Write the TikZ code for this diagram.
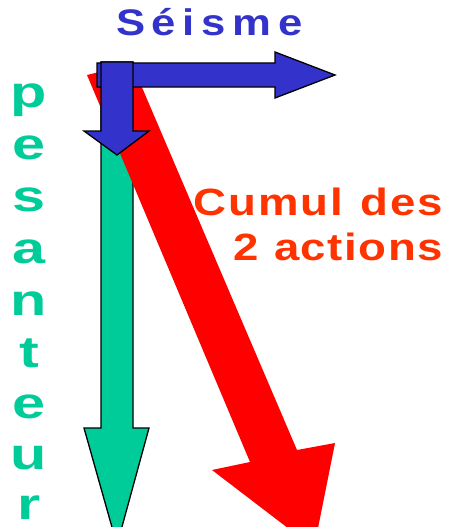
\documentclass[tikz,border=0pt]{standalone}
\usepackage{fontspec}
\setmainfont{Liberation Sans}
\usepackage{graphicx}
\definecolor{seismeblue}{HTML}{3333CC}
\definecolor{pesgreen}{HTML}{00CC99}
\definecolor{cumulred}{HTML}{FF0000}
\definecolor{labelred}{HTML}{FF3300}
\tikzset{
  outlined/.style={draw=black, line width=1.3pt, line join=miter, miter limit=10},
  label/.style={inner sep=0pt, outer sep=0pt, font=\bfseries},
  vletter/.style={label, anchor=base, text=pesgreen, font=\fontsize{44}{50}\selectfont\bfseries},
}
\newcommand\wideletter[1]{\scalebox{1.35}[1]{#1}}
\begin{document}
\begin{tikzpicture}[x=1pt, y=-1pt]
  \useasboundingbox (0,0) rectangle (449,527);
  \clip (0,0) rectangle (449,527);

  % gravity: vertical green arrow
  \fill[pesgreen, outlined] (101,62) -- (133,62) -- (133,428) -- (149,428)
      -- (117,545) -- (84,428) -- (101,428) -- cycle;

  % combined action: slanted red arrow
  \fill[cumulred] (87,75) -- (132,64) -- (297,450) -- (335,443)
      -- (314,548) -- (212,470) -- (250,462) -- cycle;

  % seismic action: horizontal blue arrow
  \fill[seismeblue, outlined] (97,63) -- (275,63) -- (275,52) -- (335,75)
      -- (275,98) -- (275,87) -- (97,87) -- cycle;

  % vertical blue arrow
  \fill[seismeblue, outlined] (101,62) -- (133,62) -- (133,131) -- (149,131)
      -- (117,155) -- (84,131) -- (101,131) -- cycle;

  % labels
  \node[label, anchor=base west, text=seismeblue] (seisme) at (116,36)
    {\fontsize{37}{42}\selectfont\bfseries\scalebox{1.18}[1]{\makebox[158pt][s]{S\hfil é\hfil i\hfil s\hfil m\hfil e}}};

  \node[label, anchor=base east, text=labelred] (cumul) at (443,215)
    {\fontsize{38}{42}\selectfont\bfseries\scalebox{1.2}[1]{\makebox[208.3pt][s]{C\hfil u\hfil m\hfil u\hfil l\hfil\ \hfil d\hfil e\hfil s}}};
  \node[label, anchor=base east, text=labelred] (actions) at (443,260)
    {\fontsize{38}{42}\selectfont\bfseries\scalebox{1.2}[1]{\makebox[175pt][s]{2\hfil\ \hfil a\hfil c\hfil t\hfil i\hfil o\hfil n\hfil s}}};

  \node[vletter] (p1) at (29,107) {\wideletter{p}};
  \node[vletter] (p2) at (29,159) {\wideletter{e}};
  \node[vletter] (p3) at (29,211) {\wideletter{s}};
  \node[vletter] (p4) at (29,263) {\wideletter{a}};
  \node[vletter] (p5) at (29,315) {\wideletter{n}};
  \node[vletter] (p6) at (29,367) {\wideletter{t}};
  \node[vletter] (p7) at (29,418) {\wideletter{e}};
  \node[vletter] (p8) at (29,469) {\wideletter{u}};
  \node[vletter] (p9) at (29,519) {\wideletter{r}};
\end{tikzpicture}
\end{document}
